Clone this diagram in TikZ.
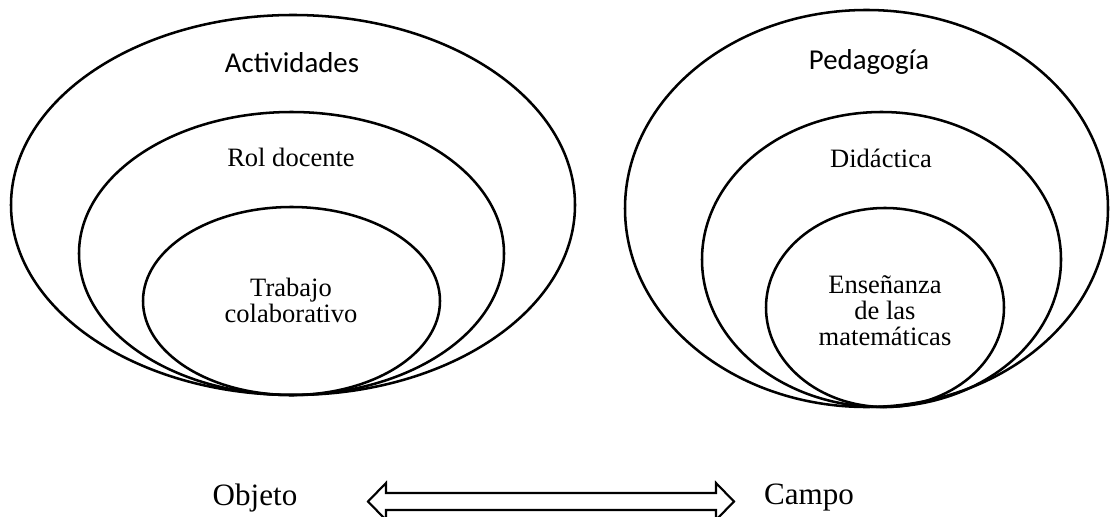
\documentclass[tikz,border=0pt]{standalone}
\usepackage{fontspec}
\setmainfont{Liberation Serif}
\newfontfamily\labelsans{Carlito}
\usetikzlibrary{shapes.geometric,calc}

\tikzset{
  ring/.style={ellipse, draw, line width=1.9pt, inner sep=0pt, outer sep=0pt},
  serifnote/.style={font=\fontsize{19.9pt}{19.5pt}\selectfont, align=center, inner sep=0pt},
  sansnote/.style={font=\labelsans\fontsize{21.6pt}{24pt}\selectfont, inner sep=0pt},
  endnote/.style={font=\fontsize{23.3pt}{26pt}\selectfont, inner sep=0pt},
  blockarrow/.style={draw, line width=1.6pt, line join=miter, fill=white}
}

\begin{document}
\begin{tikzpicture}[x=0.75pt, y=-0.75pt]
  \useasboundingbox (0,0) rectangle (1110,517);
  \fill[white] (0,0) rectangle (1110,517);
  \clip (0,0) rectangle (1110,517);

  % left family of nested ellipses
  \node[ring, minimum width=423pt,    minimum height=285pt]    (actOuter) at (293,205) {};
  \node[ring, minimum width=318.75pt, minimum height=212.25pt] (actMid)   at (291.5,253.5) {};
  \node[ring, minimum width=222.75pt, minimum height=141pt]    (actInner) at (291.5,301) {};

  \node[sansnote]  (actividades) at (292,63)  {Actividades};
  \node[serifnote] (rol)         at (291,157) {Rol docente};
  \node[serifnote] (trabajo)     at (291,300) {Trabajo\\colaborativo};

  % right family of nested ellipses
  \node[ring, minimum width=362.25pt, minimum height=297.75pt] (pedOuter) at (866.5,208.5) {};
  \node[ring, minimum width=269.25pt, minimum height=221.25pt] (pedMid)   at (881.5,259.5) {};
  \node[ring, minimum width=178.5pt,  minimum height=149.25pt] (pedInner) at (885,307.5) {};

  \node[sansnote]  (pedagogia) at (869,62)  {Pedagogía};
  \node[serifnote] (didactica) at (881,158) {Didáctica};
  \node[serifnote] (ensenanza) at (885,311) {Enseñanza\\de las\\matemáticas};

  % bottom labels and the double block arrow between them
  \node[endnote] (objeto) at (255,498) {Objeto};
  \node[endnote] (campo)  at (809,498) {Campo};

  \coordinate (linkL) at (368,501.5);
  \coordinate (linkR) at (734,501.5);
  \draw[blockarrow] (linkL) -- ++(18,-18.5) -- ++(0,10)
    -- ($(linkR)+(-18,-8.5)$) -- ++(0,-10) -- (linkR) -- ++(-18,18.5) -- ++(0,-10)
    -- ($(linkL)+(18,8.5)$) -- ++(0,10) -- cycle;
\end{tikzpicture}
\end{document}
